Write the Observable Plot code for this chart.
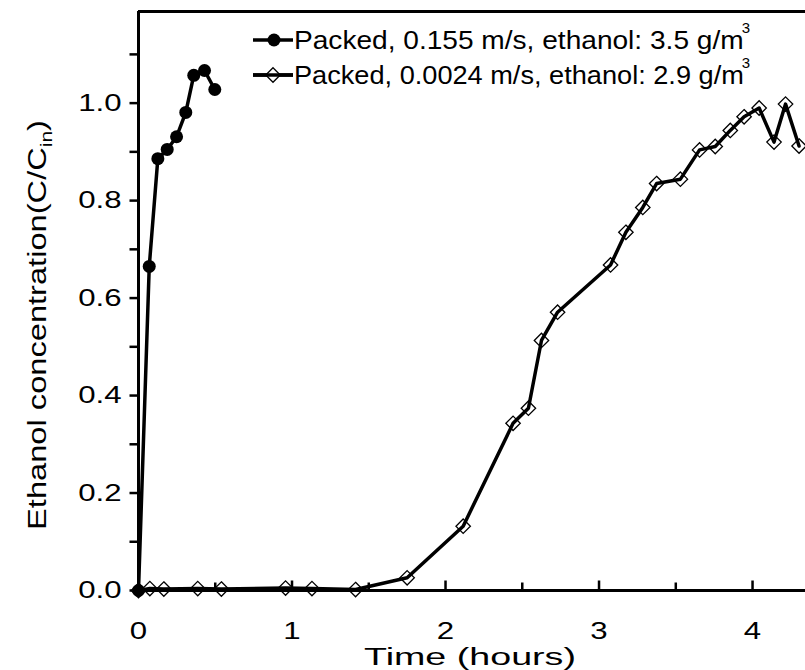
<!DOCTYPE html>
<html><head><meta charset="utf-8">
<script src="https://cdn.jsdelivr.net/npm/d3@7"></script>
<script src="https://cdn.jsdelivr.net/npm/@observablehq/plot@0.6"></script>
<style>body{margin:0;background:#fff} svg{display:block}</style>
</head><body><div id="chart"></div>
<script>
// ---- data ----
const fastTime = [0, 0.07, 0.126, 0.187, 0.248, 0.308, 0.36, 0.43, 0.497];
const fastConc = [0, 0.665, 0.886, 0.905, 0.931, 0.981, 1.057, 1.067, 1.028];
const slowTime = [0, 0.074, 0.165, 0.386, 0.54, 0.958, 1.13, 1.414, 1.75, 2.115, 2.44, 2.54, 2.625, 2.73, 3.075, 3.175, 3.285, 3.375, 3.53, 3.655, 3.757, 3.855, 3.945, 4.043, 4.14, 4.215, 4.303];
const slowConc = [0, 0.004, 0.003, 0.004, 0.003, 0.005, 0.004, 0.002, 0.026, 0.132, 0.343, 0.374, 0.513, 0.571, 0.668, 0.735, 0.786, 0.835, 0.844, 0.904, 0.911, 0.944, 0.972, 0.99, 0.92, 0.998, 0.912];
const yMajor = [0, 0.2, 0.4, 0.6, 0.8, 1.0];
const yMinor = [0.1, 0.3, 0.5, 0.7, 0.9, 1.1];
const yTickLabels = ["0.0", "0.2", "0.4", "0.6", "0.8", "1.0"];
const xMajor = [0, 1, 2, 3, 4];
const xMinor = [0.5, 1.5, 2.5, 3.5];
const xTickLabels = ["0", "1", "2", "3", "4"];
const legendLabels = ["Packed, 0.155 m/s, ethanol: 3.5 g/m", "Packed, 0.0024 m/s, ethanol: 2.9 g/m"];
const xTitle = "Time (hours)";
const yTitle = ["Ethanol concentration(C/C", "in", ")"];

// ---- layout ----
const W = 805, H = 670, ML = 138, MR = 0, MT = 11, MB = 80;
const xMax = 4.345, yMax = 1.188;
const FONT = "'Liberation Sans', Arial, Helvetica, sans-serif";

const fast = fastTime.map((t, i) => ({t, c: fastConc[i]}));
const slow = slowTime.map((t, i) => ({t, c: slowConc[i]}));
const tickSym = (dx, dy) => ({draw(ctx) { ctx.moveTo(0, 0); ctx.lineTo(dx, dy); }});

const svg = Plot.plot({
  width: W, height: H,
  marginLeft: ML, marginRight: MR, marginTop: MT, marginBottom: MB,
  x: {domain: [0, xMax], axis: null},
  y: {domain: [0, yMax], axis: null},
  style: {fontFamily: FONT, background: "white", color: "black", overflow: "hidden"},
  marks: [
    Plot.ruleY([yMax], {stroke: "black", strokeWidth: 3}),
    Plot.dot(yMajor, {x: 0, y: d => d, symbol: tickSym(-9, 0), fill: "none", stroke: "black", strokeWidth: 2.5}),
    Plot.dot(yMinor, {x: 0, y: d => d, symbol: tickSym(-9, 0), fill: "none", stroke: "black", strokeWidth: 2.5}),
    Plot.dot(xMajor.slice(1), {x: d => d, y: 0, symbol: tickSym(0, -10), fill: "none", stroke: "black", strokeWidth: 2.5}),
    Plot.dot(xMinor, {x: d => d, y: 0, symbol: tickSym(0, -8), fill: "none", stroke: "black", strokeWidth: 2.5}),
    Plot.text(yMajor, {x: 0, y: d => d, text: (d, i) => yTickLabels[i], textAnchor: "end", dx: -17, fontSize: 24, fill: "black"}),
    Plot.text(xMajor, {x: d => d, y: 0, text: (d, i) => xTickLabels[i], dy: 41, fontSize: 24, fill: "black"}),
    Plot.dot(slow, {x: "t", y: "c", symbol: "diamond2", r: 6.5, fill: "white", stroke: "black", strokeWidth: 1.3}),
    Plot.line(slow, {x: "t", y: "c", stroke: "black", strokeWidth: 3.5}),
    Plot.line(fast, {x: "t", y: "c", stroke: "black", strokeWidth: 3.5}),
    Plot.dot(fast, {x: "t", y: "c", r: 6.5, fill: "black", stroke: "none"}),
    Plot.ruleX([0], {stroke: "black", strokeWidth: 3}),
    Plot.ruleY([0], {stroke: "black", strokeWidth: 3})
  ]
});
document.getElementById("chart").appendChild(svg);

// horizontal stretch of the tick labels (the reference font is wide)
svg.querySelectorAll("text").forEach(t => {
  const w = t.getComputedTextLength();
  t.setAttribute("textLength", (w * 1.3).toFixed(2));
  t.setAttribute("lengthAdjust", "spacingAndGlyphs");
});

const root = d3.select(svg);
function fit(t, x, y, rot, target, anchor) {
  const w = t.node().getComputedTextLength();
  const s = target / w;
  t.attr("text-anchor", anchor).attr("transform", `translate(${x},${y})${rot ? ` rotate(${rot})` : ""} scale(${s},1)`);
}

// x title
const xt = root.append("text").attr("font-family", FONT).attr("font-size", 24).text(xTitle);
fit(xt, 470, 665, 0, 212, "middle");

// y title with subscript
const yt = root.append("text").attr("font-family", FONT).attr("font-size", 25);
yt.append("tspan").text(yTitle[0]);
yt.append("tspan").attr("font-size", 16).attr("dy", 6).text(yTitle[1]);
yt.append("tspan").attr("dy", -6).text(yTitle[2]);
fit(yt, 46, 325, -90, 410, "middle");

// legend
const rows = [{y: 40, kind: "circle"}, {y: 75, kind: "diamond"}];
rows.forEach((r, i) => {
  const g = root.append("g");
  g.append("line").attr("x1", 253).attr("x2", 293).attr("y1", r.y).attr("y2", r.y).attr("stroke", "black").attr("stroke-width", 3.5);
  if (r.kind === "circle") {
    g.append("circle").attr("cx", 274).attr("cy", r.y).attr("r", 6.5).attr("fill", "black");
  } else {
    g.append("path").attr("d", d3.symbol(d3.symbolDiamond2, 133)()).attr("transform", `translate(273,${r.y})`).attr("fill", "white").attr("stroke", "black").attr("stroke-width", 1.3);
    g.append("line").attr("x1", 253).attr("x2", 293).attr("y1", r.y).attr("y2", r.y).attr("stroke", "black").attr("stroke-width", 3.5);
  }
  const t = g.append("text").attr("font-family", FONT).attr("font-size", 25).text(legendLabels[i]);
  fit(t, 294, r.y + 9, 0, 450, "start");
  g.append("text").attr("font-family", FONT).attr("font-size", 15).attr("x", 746).attr("y", r.y - 7).text("3");
});
</script>
</body></html>
